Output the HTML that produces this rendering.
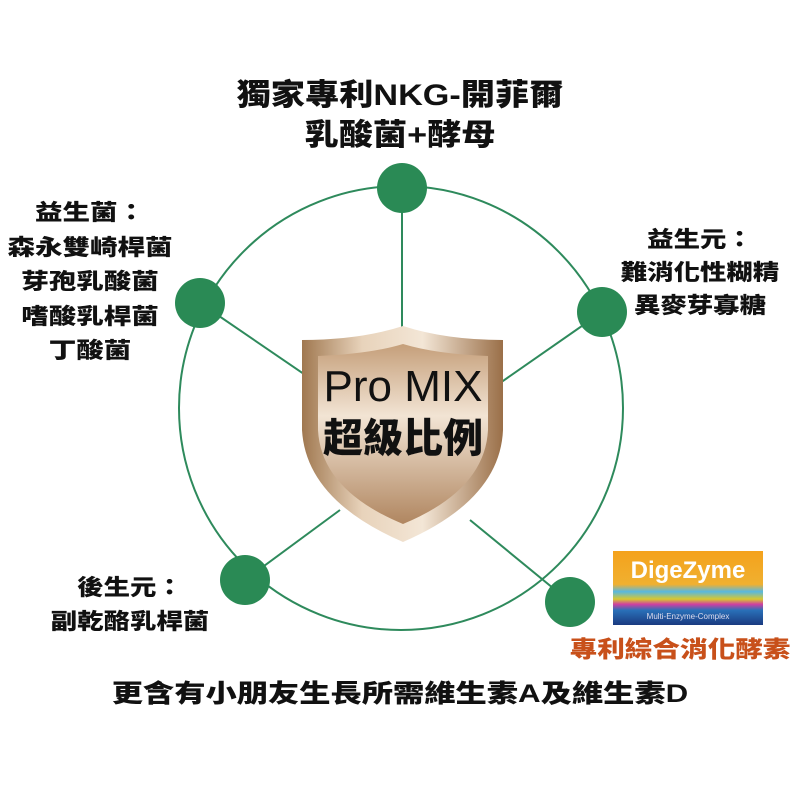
<!DOCTYPE html>
<html><head><meta charset="utf-8"><style>
body{margin:0;width:800px;height:800px;background:#fff;overflow:hidden;position:relative;font-family:"Liberation Sans","Noto Sans CJK TC",sans-serif;}
.t{position:absolute;font-weight:900;color:#111;text-align:center;white-space:nowrap;}
</style></head><body>
<svg width="800" height="800" style="position:absolute;left:0;top:0">
<defs>
<linearGradient id="g1" x1="0" y1="0" x2="1" y2="0">
<stop offset="0" stop-color="#a07850"/><stop offset="0.3" stop-color="#e8d3bb"/><stop offset="0.6" stop-color="#f3e6d6"/><stop offset="1" stop-color="#9a6f48"/></linearGradient>
<linearGradient id="g2" x1="0" y1="0" x2="0" y2="1">
<stop offset="0" stop-color="#c59f7a"/><stop offset="0.4" stop-color="#f2e4d4"/><stop offset="1" stop-color="#b08660"/></linearGradient>
<linearGradient id="lg" x1="0" y1="0" x2="0" y2="1">
<stop offset="0" stop-color="#f4a21c"/><stop offset="0.45" stop-color="#f0b030"/><stop offset="0.55" stop-color="#58b8e0"/><stop offset="0.65" stop-color="#d8c830"/><stop offset="0.72" stop-color="#d040a0"/><stop offset="0.8" stop-color="#2a70b8"/><stop offset="1" stop-color="#1a3a80"/></linearGradient>
</defs>
<circle cx="401" cy="408" r="222" fill="none" stroke="#2e8a5c" stroke-width="2"/>
<g stroke="#2e8a5c" stroke-width="2">
<line x1="402" y1="188" x2="402" y2="330"/>
<line x1="200" y1="303" x2="320" y2="385"/>
<line x1="602" y1="312" x2="490" y2="390"/>
<line x1="245" y1="580" x2="340" y2="510"/>
<line x1="570" y1="602" x2="470" y2="520"/>
</g>
<g fill="#2a8a55">
<circle cx="402" cy="188" r="25"/>
<circle cx="200" cy="303" r="25"/>
<circle cx="602" cy="312" r="25"/>
<circle cx="245" cy="580" r="25"/>
<circle cx="570" cy="602" r="25"/>
</g>
<path d="M302,340 Q360,340 403,326 Q446,340 503,340 L503,430 Q500,500 403,542 Q306,500 302,430 Z" fill="url(#g1)"/>
<path d="M318,356 Q370,354 403,344 Q436,354 488,356 L488,430 Q485,490 403,524 Q321,490 318,430 Z" fill="url(#g2)"/>
<rect x="613" y="551" width="150" height="74" fill="url(#lg)"/>
<text x="688" y="578" font-family="Liberation Sans" font-weight="bold" font-size="24" fill="#fff" text-anchor="middle">DigeZyme</text>
<text x="688" y="619" font-family="Liberation Sans" font-size="8" fill="#dde" text-anchor="middle">Multi-Enzyme-Complex</text>
</svg>
<div class="t" style="left:0;width:800px;top:76px;font-size:30px;line-height:40px;transform:scaleX(1.14);">獨家專利NKG-開菲爾<br>乳酸菌+酵母</div>
<div class="t" style="left:0;width:180px;top:196px;font-size:22px;line-height:34.5px;transform:scaleX(1.25);">益生菌：<br>森永雙崎桿菌<br>芽孢乳酸菌<br>嗜酸乳桿菌<br>丁酸菌</div>
<div class="t" style="left:620px;width:160px;top:223px;font-size:22px;line-height:33px;transform:scaleX(1.2);">益生元：<br>難消化性糊精<br>異麥芽寡糖</div>
<div class="t" style="left:40px;width:180px;top:571px;font-size:22px;line-height:34px;transform:scaleX(1.2);">後生元：<br>副乾酪乳桿菌</div>
<div class="t" style="left:568px;width:224px;top:635px;font-size:23px;line-height:28px;color:#c8501a;transform:scaleX(1.2);">專利綜合消化酵素</div>
<div class="t" style="left:0;width:800px;top:678px;font-size:25px;line-height:32px;transform:scaleX(1.25);">更含有小朋友生長所需維生素A及維生素D</div>
<div class="t" style="left:302px;width:202px;top:363px;font-size:44px;font-weight:normal;line-height:48px;">Pro MIX</div>
<div class="t" style="left:302px;width:202px;top:416px;font-size:40px;line-height:46px;">超級比例</div>
</body></html>
